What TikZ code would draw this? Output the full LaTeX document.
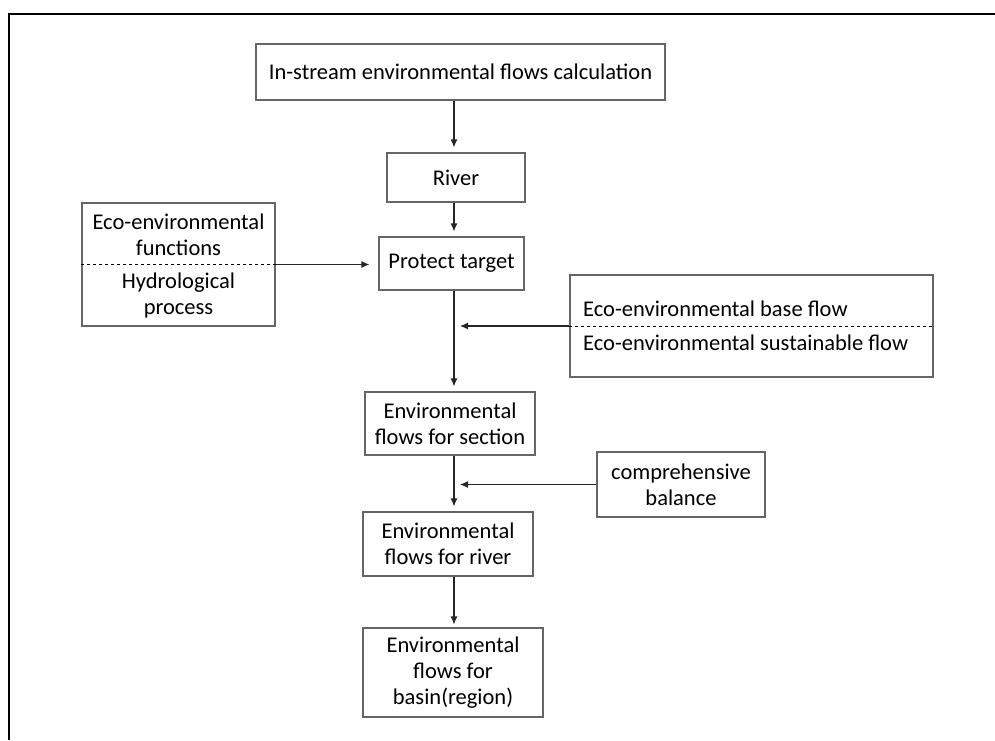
\documentclass[tikz,border=0pt]{standalone}
\usepackage{fontspec}
\setmainfont{Carlito}
\usetikzlibrary{arrows.meta}

\tikzset{
  flowbox/.style={draw=black!60, line width=1.1pt, fill=white, align=center, inner sep=0pt,
    font=\fontsize{22.5}{26}\selectfont},
  boxtext/.style={inner sep=0pt, align=center, font=\fontsize{22.5}{26}\selectfont},
  link/.style={->, line width=1.1pt, draw=black!85, shorten >=5pt},
}

\begin{document}
\begin{tikzpicture}[x=1pt, y=-1pt, >={Latex[length=8pt,width=7pt]}]
  \useasboundingbox (0,0) rectangle (995,740);
  \draw[line width=2pt] (995,14) -- (9,14) -- (9,740);

  % main column
  \node[flowbox, minimum width=409, minimum height=56] (calc) at (460.5,72) {In-stream environmental flows calculation};
  \node[flowbox, minimum width=138, minimum height=49] (river) at (456,177.5) {River};
  \node[flowbox, minimum width=145, minimum height=53] (protect) at (451.5,263.5) {Protect target};
  \node[flowbox, minimum width=170, minimum height=63] (section) at (450,423.5) {Environmental\\flows for section};
  \node[flowbox, minimum width=170, minimum height=64] (rivflow) at (448,544) {Environmental\\flows for river};
  \node[flowbox, minimum width=180, minimum height=89] (basin) at (453,672.5) {Environmental\\flows for\\basin(region)};

  % side boxes
  \node[flowbox, minimum width=193, minimum height=123] (funcs) at (178.5,264.5) {};
  \draw[dashed, line width=0.8pt] (funcs.west) -- (funcs.east);
  \node[boxtext] (funcsA) at (178.5,235) {Eco-environmental\\functions};
  \node[boxtext] (funcsB) at (178.5,295) {Hydrological\\process};

  \node[flowbox, minimum width=363, minimum height=102] (flows) at (751.5,326) {};
  \draw[dashed, line width=0.8pt] (flows.west) -- (flows.east);
  \node[boxtext, anchor=west] (flowsA) at (583,309) {Eco-environmental base flow};
  \node[boxtext, anchor=west] (flowsB) at (583,343) {Eco-environmental sustainable flow};

  \node[flowbox, minimum width=168, minimum height=65] (balance) at (681,484.5) {comprehensive\\balance};

  % connectors
  \coordinate (j1) at (454,326);
  \coordinate (j2) at (454,486);
  \draw[link] (calc.south -| j1) -- (river.north -| j1);
  \draw[link] (river.south -| j1) -- (protect.north -| j1);
  \draw[link, shorten >=9pt] (funcs.east) -- (funcs.east -| protect.west);
  \draw[link] (protect.south -| j1) -- (section.north -| j1);
  \draw[link, shorten >=6pt] (flows.west) -- (flows.west -| j1);
  \draw[link] (section.south -| j2) -- (rivflow.north -| j2);
  \draw[link, shorten >=6pt] (balance.west) -- (balance.west -| j2);
  \draw[link, shorten >=3pt] (rivflow.south -| j2) -- (basin.north -| j2);
\end{tikzpicture}
\end{document}
